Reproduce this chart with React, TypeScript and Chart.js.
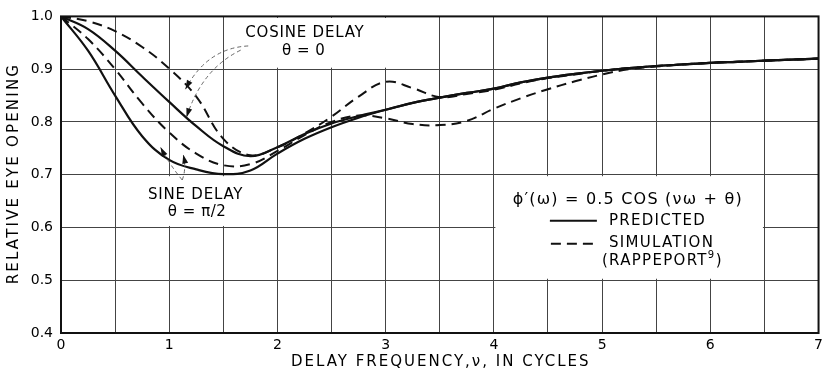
import React, { useEffect, useRef } from 'react';
import { Chart, registerables } from 'chart.js';

Chart.register(...registerables);

// ---- data ----
const xValues = [0, 0.25, 0.5, 0.75, 1, 1.25, 1.5, 1.75, 2, 2.25, 2.5, 2.75, 3, 3.25, 3.5, 3.75, 4, 4.25, 4.5, 4.75, 5, 5.25, 5.5, 5.75, 6, 6.25, 6.5, 6.75, 7];

const cosinePredicted = [1.0, 0.976, 0.935, 0.886, 0.838, 0.792, 0.754, 0.735, 0.752, 0.777, 0.797, 0.811, 0.823, 0.836, 0.846, 0.855, 0.863, 0.875, 0.884, 0.891, 0.897, 0.902, 0.906, 0.909, 0.912, 0.914, 0.916, 0.918, 0.92];
const sinePredicted = [1.0, 0.935, 0.85, 0.773, 0.728, 0.71, 0.701, 0.708, 0.74, 0.768, 0.79, 0.808, 0.823, 0.836, 0.846, 0.855, 0.863, 0.875, 0.884, 0.891, 0.897, 0.902, 0.906, 0.909, 0.912, 0.914, 0.916, 0.918, 0.92];
const cosineSimulation = [1.0, 0.991, 0.972, 0.942, 0.901, 0.848, 0.768, 0.737, 0.752, 0.778, 0.81, 0.848, 0.876, 0.864, 0.847, 0.853, 0.861, 0.873, 0.883, 0.89, 0.897, 0.902, 0.906, 0.909, 0.912, 0.914, 0.916, 0.918, 0.92];
const sineSimulation = [1.0, 0.957, 0.9, 0.835, 0.78, 0.74, 0.718, 0.72, 0.745, 0.775, 0.8, 0.812, 0.807, 0.796, 0.794, 0.802, 0.825, 0.845, 0.862, 0.877, 0.89, 0.9, 0.905, 0.909, 0.912, 0.914, 0.916, 0.918, 0.92];

const xTickLabels = ['0', '1', '2', '3', '4', '5', '6', '7'];
const yTickLabels = ['0.4', '0.5', '0.6', '0.7', '0.8', '0.9', '1.0'];

const xTitle = 'DELAY FREQUENCY,\u03BD, IN CYCLES';
const yTitle = 'RELATIVE EYE OPENING';

// ---- annotation layout (in data units) ----
const labelBoxes = [
  { x0: 1.5, x1: 3.5, y0: 0.9, y1: 1.0 },
  { x0: 0.5, x1: 2.0, y0: 0.6, y1: 0.7 },
  { x0: 4.0, x1: 6.5, y0: 0.5, y1: 0.7 },
];

const arrows = [
  { from: [1.73, 0.944], ctrl: [1.35, 0.94], to: [1.15, 0.862] },
  { from: [1.66, 0.936], ctrl: [1.3, 0.9], to: [1.16, 0.809] },
  { from: [1.12, 0.69], ctrl: [1.0, 0.72], to: [0.92, 0.752] },
  { from: [1.12, 0.69], ctrl: [1.16, 0.71], to: [1.13, 0.738] },
];

const FONT = '"DejaVu Sans", sans-serif';

function drawText(ctx: CanvasRenderingContext2D, s: string, x: number, y: number, size: number, spacing: number, align: 'left' | 'center' | 'right' = 'center') {
  ctx.save();
  ctx.font = `${size}px ${FONT}`;
  (ctx as any).letterSpacing = `${spacing}px`;
  ctx.textBaseline = 'middle';
  ctx.textAlign = 'left';
  ctx.fillStyle = '#000';
  const w = ctx.measureText(s).width;
  let sx = x;
  if (align === 'center') sx = x - (w - spacing) / 2;
  else if (align === 'right') sx = x - w;
  ctx.fillText(s, sx, y);
  ctx.restore();
  return w;
}

const decorPlugin = {
  id: 'decor',
  beforeDatasetsDraw(chart: any) {
    const { ctx, scales } = chart;
    const xs = scales.x, ys = scales.y;
    ctx.save();
    ctx.fillStyle = '#ffffff';
    for (const b of labelBoxes) {
      const l = xs.getPixelForValue(b.x0), r = xs.getPixelForValue(b.x1);
      const t = ys.getPixelForValue(b.y1), bt = ys.getPixelForValue(b.y0);
      ctx.fillRect(l + 1.5, t + 1.5, r - l - 3, bt - t - 3);
    }
    ctx.restore();
  },
  afterDatasetsDraw(chart: any) {
    const { ctx, scales, chartArea } = chart;
    const xs = scales.x, ys = scales.y;
    const px = (v: number) => xs.getPixelForValue(v);
    const py = (v: number) => ys.getPixelForValue(v);

    // frame
    ctx.save();
    ctx.strokeStyle = '#111';
    ctx.lineWidth = 2;
    ctx.strokeRect(chartArea.left, chartArea.top, chartArea.right - chartArea.left, chartArea.bottom - chartArea.top);
    ctx.restore();

    // arrows
    for (const a of arrows) {
      const x0 = px(a.from[0]), y0 = py(a.from[1]);
      const cx = px(a.ctrl[0]), cy = py(a.ctrl[1]);
      const x1 = px(a.to[0]), y1 = py(a.to[1]);
      ctx.save();
      ctx.strokeStyle = '#666';
      ctx.lineWidth = 1;
      ctx.setLineDash([4, 3]);
      ctx.beginPath();
      ctx.moveTo(x0, y0);
      ctx.quadraticCurveTo(cx, cy, x1, y1);
      ctx.stroke();
      ctx.setLineDash([]);
      const ang = Math.atan2(y1 - cy, x1 - cx);
      const L = 9, W = 3;
      ctx.fillStyle = '#111';
      ctx.beginPath();
      ctx.moveTo(x1, y1);
      ctx.lineTo(x1 - L * Math.cos(ang) + W * Math.sin(ang), y1 - L * Math.sin(ang) - W * Math.cos(ang));
      ctx.lineTo(x1 - L * Math.cos(ang) - W * Math.sin(ang), y1 - L * Math.sin(ang) + W * Math.cos(ang));
      ctx.closePath();
      ctx.fill();
      ctx.restore();
    }

    // cosine label
    drawText(ctx, 'COSINE DELAY', px(2.25), py(0.968), 15, 0.8);
    drawText(ctx, '\u03B8 = 0', px(2.24), py(0.935), 15, 0.5);
    // sine label
    drawText(ctx, 'SINE DELAY', px(1.24), py(0.662), 15, 0.8);
    drawText(ctx, '\u03B8 = \u03C0/2', px(1.255), py(0.63), 15, 0.5);

    // legend
    const lb = labelBoxes[2];
    const L0 = px(lb.x0), R0 = px(lb.x1), T0 = py(lb.y1);
    const cxL = (L0 + R0) / 2;
    drawText(ctx, '\u03D5\u2032(\u03C9) = 0.5 COS (\u03BD\u03C9 + \u03B8)', cxL - 2, T0 + 25, 16, 1.2);
    ctx.save();
    ctx.strokeStyle = '#111';
    ctx.lineWidth = 2;
    ctx.beginPath();
    ctx.moveTo(L0 + 56, T0 + 46);
    ctx.lineTo(L0 + 103, T0 + 46);
    ctx.stroke();
    ctx.setLineDash([10, 6]);
    ctx.beginPath();
    ctx.moveTo(L0 + 57, T0 + 69);
    ctx.lineTo(L0 + 103, T0 + 69);
    ctx.stroke();
    ctx.restore();
    drawText(ctx, 'PREDICTED', L0 + 115, T0 + 46, 15, 1.3, 'left');
    drawText(ctx, 'SIMULATION', L0 + 115, T0 + 68, 15, 1.3, 'left');
    const w = drawText(ctx, '(RAPPEPORT', L0 + 108, T0 + 86, 15, 1.3, 'left');
    drawText(ctx, '9', L0 + 108 + w, T0 + 81, 10, 0, 'left');
    drawText(ctx, ')', L0 + 108 + w + 8, T0 + 86, 15, 0, 'left');

    // axis titles
    drawText(ctx, xTitle, (chartArea.left + chartArea.right) / 2, 362, 15, 2.0);
    ctx.save();
    ctx.translate(14, (chartArea.top + chartArea.bottom) / 2);
    ctx.rotate(-Math.PI / 2);
    drawText(ctx, yTitle, 0, 0, 15, 2.2);
    ctx.restore();
  },
};

function toPoints(ys: number[]) {
  return xValues.map((x, i) => ({ x, y: ys[i] }));
}

export default function App() {
  const canvasRef = useRef<HTMLCanvasElement | null>(null);

  useEffect(() => {
    if (!canvasRef.current) return;
    const solid = { borderColor: '#111', borderWidth: 2.2, pointRadius: 0, tension: 0.4, fill: false };
    const dashed = { ...solid, borderWidth: 2, borderDash: [10, 6] };
    const chart = new Chart(canvasRef.current, {
      type: 'line',
      data: {
        datasets: [
          { label: 'Cosine delay, predicted', data: toPoints(cosinePredicted), ...solid },
          { label: 'Sine delay, predicted', data: toPoints(sinePredicted), ...solid },
          { label: 'Cosine delay, simulation', data: toPoints(cosineSimulation), ...dashed },
          { label: 'Sine delay, simulation', data: toPoints(sineSimulation), ...dashed },
        ],
      },
      options: {
        animation: false,
        responsive: false,
        devicePixelRatio: 1,
        layout: { padding: { top: 12, right: 8, left: 0, bottom: 0 } },
        plugins: { legend: { display: false }, tooltip: { enabled: false }, title: { display: false } },
        scales: {
          x: {
            type: 'linear',
            min: 0,
            max: 7,
            afterFit: (s: any) => { s.height = 43; },
            afterBuildTicks: (s: any) => {
              const t: any[] = [];
              for (let i = 0; i <= 14; i++) t.push({ value: i * 0.5 });
              s.ticks = t;
            },
            ticks: {
              autoSkip: false,
              maxRotation: 0,
              padding: 4,
              color: '#000',
              font: { family: FONT, size: 14 },
              callback: (v: any) => (Number.isInteger(v) ? xTickLabels[v] : ''),
            },
            grid: { color: '#444', lineWidth: 1, drawTicks: false },
            border: { display: false },
          },
          y: {
            type: 'linear',
            min: 0.4,
            max: 1.0,
            afterFit: (s: any) => { s.width = 61; },
            afterBuildTicks: (s: any) => {
              s.ticks = yTickLabels.map((l) => ({ value: parseFloat(l) }));
            },
            ticks: {
              padding: 8,
              color: '#000',
              font: { family: FONT, size: 14 },
              callback: (v: any) => yTickLabels[Math.round((v - 0.4) * 10)],
            },
            grid: { color: '#444', lineWidth: 1, drawTicks: false },
            border: { display: false },
          },
        },
      },
      plugins: [decorPlugin],
    });
    return () => chart.destroy();
  }, []);

  return (
    <div style={{ position: 'absolute', left: 0, top: 0, width: 827, height: 376, background: '#fff' }}>
      <canvas ref={canvasRef} width={827} height={376} />
    </div>
  );
}
